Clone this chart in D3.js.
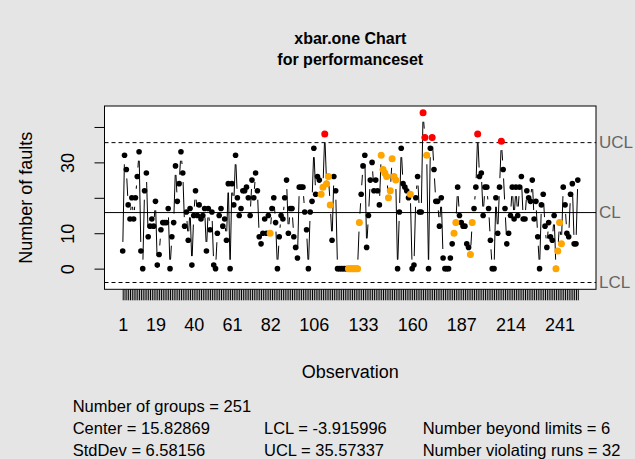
<!DOCTYPE html>
<html><head><meta charset="utf-8">
<script src="https://cdn.jsdelivr.net/npm/d3@7"></script>
<style>
html,body{margin:0;padding:0;background:#e5e5e5;}
svg{display:block;font-family:"Liberation Sans",Arial,sans-serif;}
</style>
</head><body>
<svg id="chart" width="635" height="459"></svg>
<script>
// ---- data ----
const faults = [
  5,32,28,18,14,20,14,20,26,33,
  5,0,22,27,9,12,14,12,19,1,
  4,11,13,13,13,17,0,9,13,29,
  19,24,33,27,12,16,8,17,1,15,
  22,15,18,14,15,17,5,17,11,16,
  1,0,10,15,17,12,14,8,24,0,
  24,18,32,20,15,17,22,22,23,20,
  15,25,20,27,22,9,7,10,14,10,
  15,10,17,20,13,0,9,15,14,20,
  25,10,17,17,9,6,3,23,23,23,
  16,11,0,16,19,34,21,26,25,21,
  23,38,24,26,18,8,26,22,0,0,
  0,0,0,0,0,0,0,0,0,0,
  13,21,29,32,6,15,25,30,22,25,
  22,18,32,28,27,26,20,22,31,26,
  25,0,16,34,24,23,22,20,21,0,
  1,20,26,16,16,44,37,32,0,34,
  37,28,19,19,12,20,3,0,0,0,
  3,7,10,13,23,15,13,12,12,7,
  6,4,13,17,23,38,26,27,15,23,
  23,17,8,0,0,20,10,23,36,28,
  17,7,10,15,23,14,23,15,23,26,
  14,14,22,20,19,25,14,19,9,0,
  18,21,12,6,13,9,8,15,0,5,
  13,7,23,18,10,9,21,24,7,7,
  25
];
const xTickLabels = [1,19,40,61,82,106,133,160,187,214,241];
const yTickValues = [0,10,20,30,40];
const yTickLabels = [0,10,30];
const limitNames = ["UCL","CL","LCL"];
const centerValue = 15.82869;
const stdDevValue = 6.58156;
const lclValue = -3.915996;
const uclValue = 35.57337;
const runLength = 7;
const titleLines = ["xbar.one Chart","for performanceset"];

// ---- layout ----
const W = 635, H = 459;
const L = 104.5, R = 596, T = 106, B = 289.3;
const svg = d3.select("#chart");
svg.append("rect").attr("width",W).attr("height",H).attr("fill","#e5e5e5");
svg.append("rect").attr("x",L).attr("y",T).attr("width",R-L).attr("height",B-T).attr("fill","#fff");

const n = faults.length;
const idx = d3.range(1, n+1);
const xs = d3.scaleLinear().domain([1-0.04*(n-1), n+0.04*(n-1)]).range([L,R]);
const ymin = Math.min(lclValue, d3.min(faults)), ymax = Math.max(uclValue, d3.max(faults));
const yd = ymax - ymin;
const ys = d3.scaleLinear().domain([ymin-0.04*yd, ymax+0.04*yd]).range([B,T]);

// ---- violations (qcc rules) ----
const beyond = new Set(), runs = new Set();
faults.forEach((v,i)=>{ if (v>uclValue || v<lclValue) beyond.add(i); });
const sgn = faults.map(v => v>centerValue?1:(v<centerValue?-1:0));
let s = 0;
while (s < n) {
  let e = s;
  while (e+1 < n && sgn[e+1] === sgn[s]) e++;
  if (sgn[s] !== 0 && e-s+1 >= runLength)
    for (let k=s+runLength-1;k<=e;k++) if (!beyond.has(k)) runs.add(k);
  s = e+1;
}

// ---- axes ----
const xAxis = d3.axisBottom(xs).tickValues(idx).tickSize(11).tickSizeOuter(0)
  .tickFormat(d => xTickLabels.includes(d) ? String(d) : "");
const gx = svg.append("g").attr("transform",`translate(0,${B})`).call(xAxis);
gx.select(".domain").remove();
gx.selectAll(".tick line").attr("stroke","#000").attr("stroke-width",1);
gx.selectAll(".tick text").attr("font-size",18).attr("fill","#000").attr("font-family","Liberation Sans, Arial, sans-serif")
  .attr("y",0).attr("dy",null).attr("transform","translate(0,42)");

const yAxis = d3.axisLeft(ys).tickValues(yTickValues).tickSize(10).tickSizeOuter(0)
  .tickFormat(d => yTickLabels.includes(d) ? String(d) : "");
const gy = svg.append("g").attr("transform",`translate(${L},0)`).call(yAxis);
gy.select(".domain").remove();
gy.selectAll(".tick line").attr("stroke","#000");
gy.selectAll(".tick text").attr("font-size",18).attr("fill","#000").attr("font-family","Liberation Sans, Arial, sans-serif")
  .attr("x",null).attr("dy",null).attr("text-anchor","middle").attr("dominant-baseline","central")
  .attr("transform","translate(-36.5,0) rotate(-90)");

// ---- limit lines ----
const limits = [uclValue, centerValue, lclValue];
svg.append("g").selectAll("line").data(limits).join("line")
  .attr("x1",L).attr("x2",R).attr("y1",d=>ys(d)).attr("y2",d=>ys(d))
  .attr("stroke","#000").attr("stroke-width",1)
  .attr("stroke-dasharray",(d,i)=> i===1 ? null : "4,3");
svg.append("g").selectAll("text").data(limits).join("text")
  .attr("x",R+3).attr("y",d=>ys(d)).attr("dominant-baseline","central")
  .attr("font-size",17).attr("fill","#666").text((d,i)=>limitNames[i]);

// ---- connecting lines (type "b": gaps around points) ----
const gap = 9;
const segs = [];
for (let i=0;i<n-1;i++){
  const x0=xs(i+1), y0=ys(faults[i]), x1=xs(i+2), y1=ys(faults[i+1]);
  const len = Math.hypot(x1-x0,y1-y0);
  if (len > 2*gap){
    const f = gap/len;
    segs.push([x0+(x1-x0)*f, y0+(y1-y0)*f, x1-(x1-x0)*f, y1-(y1-y0)*f]);
  }
}
svg.append("g").selectAll("line").data(segs).join("line")
  .attr("x1",d=>d[0]).attr("y1",d=>d[1]).attr("x2",d=>d[2]).attr("y2",d=>d[3])
  .attr("stroke","#000").attr("stroke-width",1);

// ---- points ----
svg.append("g").selectAll("circle").data(faults).join("circle")
  .attr("cx",(d,i)=>xs(i+1)).attr("cy",d=>ys(d)).attr("r",2.8).attr("fill","#000");
const viol = idx.map(i=>i-1).filter(i=>runs.has(i)||beyond.has(i));
svg.append("g").selectAll("circle").data(viol).join("circle")
  .attr("cx",i=>xs(i+1)).attr("cy",i=>ys(faults[i])).attr("r",3.5)
  .attr("fill",i=> beyond.has(i) ? "#ff0000" : "#ffa500");

// ---- box ----
svg.append("rect").attr("x",L).attr("y",T).attr("width",R-L).attr("height",B-T)
  .attr("fill","none").attr("stroke","#000").attr("stroke-width",1);

// ---- titles ----
svg.append("g").selectAll("text").data(titleLines).join("text")
  .attr("x",(L+R)/2).attr("y",(d,i)=>44+i*21).attr("text-anchor","middle")
  .attr("font-weight","bold").attr("font-size",16).attr("fill","#000").text(d=>d);
svg.append("text").attr("x",(L+R)/2).attr("y",378).attr("text-anchor","middle")
  .attr("font-size",18).attr("fill","#000").text("Observation");
svg.append("text").attr("transform",`translate(32,${(T+B)/2}) rotate(-90)`).attr("text-anchor","middle")
  .attr("font-size",18).attr("fill","#000").text("Number of faults");

// ---- summary ----
const summary = [
  [72.7, 411.5, "Number of groups = " + n],
  [72.7, 434, "Center = " + centerValue],
  [72.7, 455.5, "StdDev = " + stdDevValue],
  [264, 434, "LCL = " + lclValue],
  [264, 455.5, "UCL = " + uclValue],
  [422.7, 434, "Number beyond limits = " + beyond.size],
  [422.7, 455.5, "Number violating runs = " + runs.size]
];
svg.append("g").selectAll("text").data(summary).join("text")
  .attr("x",d=>d[0]).attr("y",d=>d[1]).attr("font-size",16.5).attr("fill","#000").text(d=>d[2]);
</script>
</body></html>
